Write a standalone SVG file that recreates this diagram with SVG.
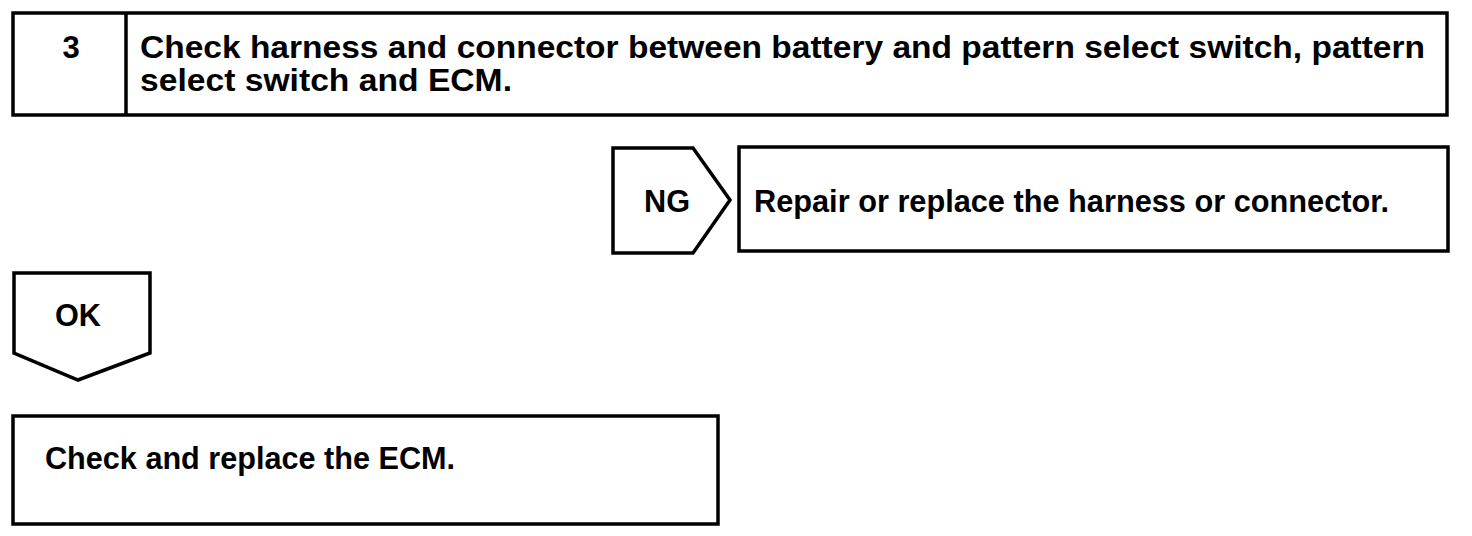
<svg xmlns="http://www.w3.org/2000/svg" width="1472" height="536" viewBox="0 0 1472 536">
<style>
.box{fill:#fff;stroke:#000;stroke-width:3.5}
.t{font-family:"Liberation Sans",Arial,sans-serif;font-weight:bold;font-size:31px;fill:#000}
</style>
<rect width="1472" height="536" fill="#fff"/>
<g id="step3">
<rect class="box" x="13" y="13" width="1434" height="102"/>
<line x1="126" y1="13" x2="126" y2="115" stroke="#000" stroke-width="3.5"/>
<text class="t" x="71" y="58" text-anchor="middle">3</text>
<text class="t" x="140" y="58" textLength="1285" lengthAdjust="spacingAndGlyphs">Check harness and connector between battery and pattern select switch, pattern</text>
<text class="t" x="140" y="91" textLength="372" lengthAdjust="spacingAndGlyphs">select switch and ECM.</text>
</g>
<g id="ng">
<polygon class="box" points="613,148 693,148 730,200 693,253 613,253"/>
<text class="t" x="667" y="212" text-anchor="middle" textLength="46" lengthAdjust="spacingAndGlyphs">NG</text>
</g>
<g id="repair">
<rect class="box" x="739" y="147" width="709" height="104"/>
<text class="t" x="754" y="212" textLength="635" lengthAdjust="spacingAndGlyphs">Repair or replace the harness or connector.</text>
</g>
<g id="ok">
<polygon class="box" points="14,273 150,273 150,353 78,380 14,353"/>
<text class="t" x="78" y="326" text-anchor="middle" textLength="46" lengthAdjust="spacingAndGlyphs">OK</text>
</g>
<g id="ecm">
<rect class="box" x="13" y="416" width="705" height="108"/>
<text class="t" x="45" y="469" textLength="410" lengthAdjust="spacingAndGlyphs">Check and replace the ECM.</text>
</g>
<g id="connectors"></g>
</svg>
